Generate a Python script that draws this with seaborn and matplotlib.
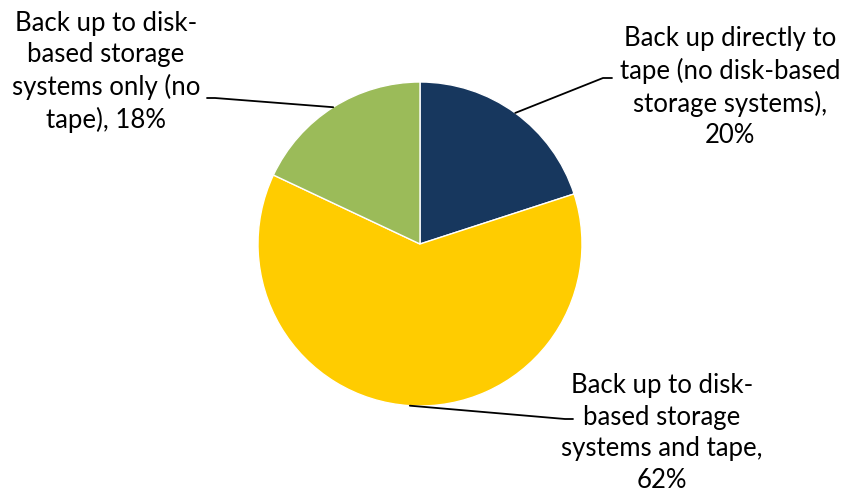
import matplotlib
matplotlib.use("Agg")
import matplotlib.pyplot as plt
from matplotlib.lines import Line2D
import numpy as np
import seaborn as sns

categories = [
    "Back up directly to\ntape (no disk-based\nstorage systems),\n20%",
    "Back up to disk-\nbased storage\nsystems and tape,\n62%",
    "Back up to disk-\nbased storage\nsystems only (no\ntape), 18%",
]
values = [20, 62, 18]
colors = ["#17375E", "#FFCC00", "#9BBB59"]

sns.set_theme(style="white")
plt.rcParams["font.family"] = ["Lato", "DejaVu Sans"]

W, H = 844, 496
fig = plt.figure(figsize=(W / 100, H / 100), dpi=100)
cx, cy, r = 420, 244, 162
ax = fig.add_axes([(cx - r) / W, (H - cy - r) / H, 2 * r / W, 2 * r / H])
wedges, _ = ax.pie(values, colors=colors, startangle=90, counterclock=False,
                   radius=1, wedgeprops=dict(edgecolor="white", linewidth=1))
ax.set_xlim(-1, 1)
ax.set_ylim(-1, 1)
ax.set_aspect("equal")
ax.axis("off")

# label layout (figure pixel coords, top-left origin): text centre, elbow, end
text_pos = [(730, 87), (662, 433), (106, 72)]
elbows = [((603, 78), (612, 78)), ((565, 419), (573, 419)), ((215, 98), (207, 98))]

fig.canvas.draw()
for w, lab, tp, (e1, e2) in zip(wedges, categories, text_pos, elbows):
    ang = np.deg2rad((w.theta1 + w.theta2) / 2)
    px, py = ax.transData.transform((np.cos(ang), np.sin(ang)))
    fx, fy = px / W, py / H
    xs = [fx, e1[0] / W, e2[0] / W]
    ys = [fy, 1 - e1[1] / H, 1 - e2[1] / H]
    fig.add_artist(Line2D(xs, ys, transform=fig.transFigure, color="black", lw=1.3))
    fig.text(tp[0] / W, 1 - tp[1] / H, lab, ha="center", va="center",
             fontsize=18.5, linespacing=1.32, color="black")

fig.savefig("out.png", dpi=100)
